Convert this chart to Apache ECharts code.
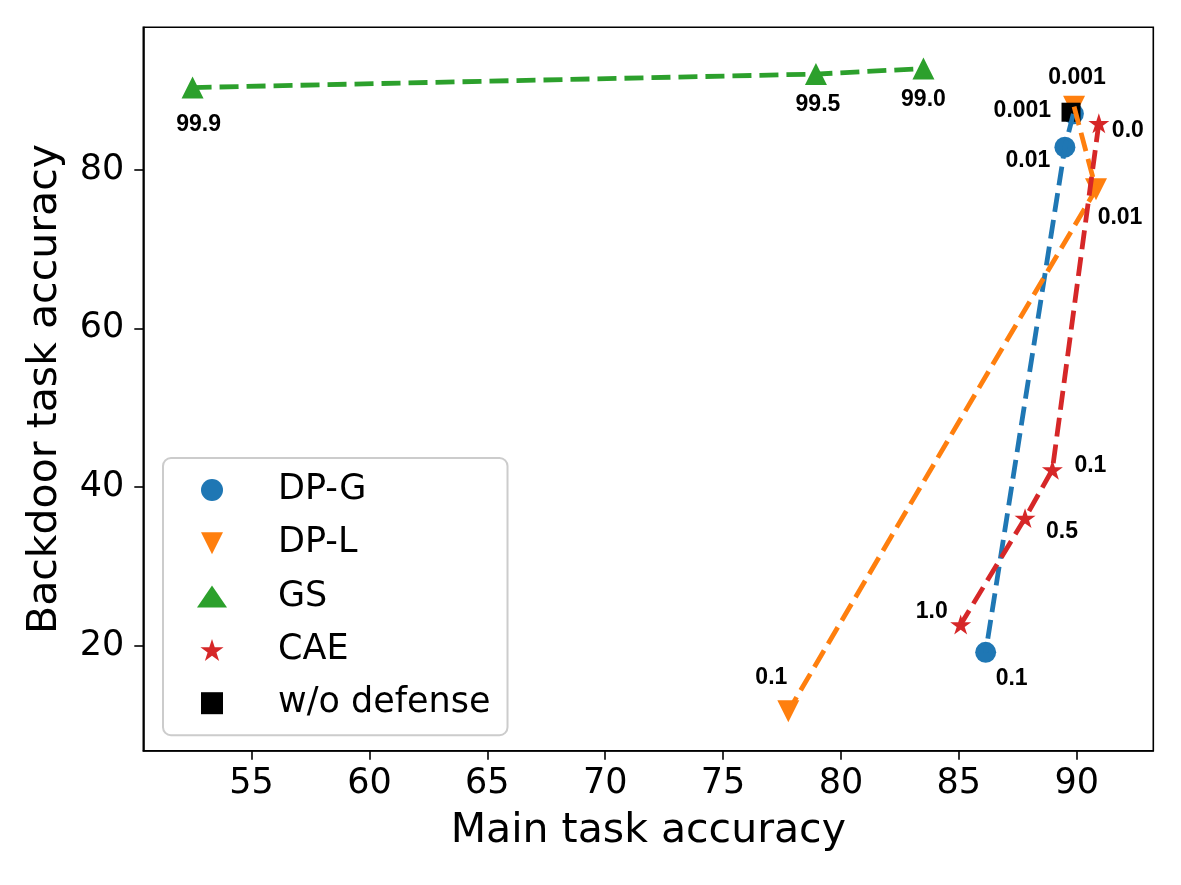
<!DOCTYPE html>
<html>
<head>
<meta charset="utf-8">
<title>Main vs backdoor task accuracy</title>
<script src="https://cdn.jsdelivr.net/npm/echarts@6.0.0/dist/echarts.min.js"></script>
<style>
  html, body { margin: 0; padding: 0; background: #fff; }
  #chart { width: 1181px; height: 885px; }
</style>
</head>
<body>
<div id="chart"></div>
<script>
// points: [main task accuracy, backdoor task accuracy]
const dpG = [[89.86, 87.0], [89.5, 82.8], [86.14, 19.2]];
const dpGLabels = ['0.001', '0.01', '0.1'];

const dpL = [[89.89, 87.9], [90.82, 77.5], [77.77, 11.8]];
const dpLLabels = ['0.001', '0.01', '0.1'];

const gs = [[52.5, 90.3], [78.94, 92.0], [83.5, 92.7]];
const gsLabels = ['99.9', '99.5', '99.0'];

const cae = [[90.94, 85.8], [88.97, 42.2], [87.81, 36.1], [85.08, 22.7]];
const caeLabels = ['0.0', '0.1', '0.5', '1.0'];

const noDefense = [[89.76, 87.2]];

const xTicks = [55, 60, 65, 70, 75, 80, 85, 90];
const yTicks = [20, 40, 60, 80];

// label offsets in px (text centre relative to marker centre)
const offsets = {
    dpG: [[-51, -3], [-37, 13], [26, 26]],
    dpL: [[3, -29], [24, 28], [-17, -33]],
    gs: [[6, 37], [2, 31], [0, 31]],
    cae: [[29, 7], [38, -4], [37, 14], [-29, -13]]
};

const STAR = 'path://M50 0 L61.23 34.55 L97.55 34.55 L68.16 55.9 L79.39 90.45 L50 69.1 L20.61 90.45 L31.84 55.9 L2.45 34.55 L38.77 34.55 Z';
const TRI_DOWN = 'path://M0 0 L2 0 L1 2 Z';
const SQUARE = 'path://M0 0 L1 0 L1 1 L0 1 Z';

const tickFont = 'DejaVu Sans';
const annFont = 'Liberation Sans';

function withLabels(points, labels, offs) {
    return points.map((p, i) => ({
        value: p,
        label: { formatter: labels[i], offset: offs[i] }
    }));
}

function scatter(name, data, color, symbol, size) {
    return {
        name: name,
        type: 'scatter',
        data: data,
        symbol: symbol,
        symbolSize: size,
        symbolKeepAspect: true,
        itemStyle: { color: color, opacity: 1 },
        z: 2,
        label: {
            show: true,
            position: 'inside',
            align: 'center',
            verticalAlign: 'middle',
            color: '#000',
            fontFamily: annFont,
            fontWeight: 'bold',
            fontSize: 23
        },
        emphasis: { disabled: true }
    };
}

function dashed(points, color) {
    return {
        type: 'line',
        data: points,
        symbol: 'none',
        lineStyle: { color: color, width: 4.8, type: [19, 8], cap: 'butt' },
        z: 4,
        silent: true
    };
}

const chart = echarts.init(document.getElementById('chart'));

const option = {
    animation: false,
    backgroundColor: '#fff',
    grid: {
        left: 143.3, right: 27.7, top: 27.3, bottom: 134.3,
        show: true, borderColor: '#000', borderWidth: 1.6, backgroundColor: '#fff'
    },
    xAxis: {
        type: 'value',
        min: 50.41,
        max: 93.25,
        name: 'Main task accuracy',
        nameLocation: 'middle',
        nameGap: 60,
        nameTextStyle: { fontFamily: tickFont, fontSize: 41, color: '#000' },
        splitLine: { show: false },
        axisLine: { show: true, lineStyle: { color: '#000', width: 1.6 } },
        axisTick: { show: true, customValues: xTicks, length: 9, lineStyle: { color: '#000', width: 1.6 } },
        axisLabel: { customValues: xTicks, fontFamily: tickFont, fontSize: 35, color: '#000', margin: 16 }
    },
    yAxis: {
        type: 'value',
        min: 6.82,
        max: 97.89,
        name: 'Backdoor task accuracy',
        nameLocation: 'middle',
        nameGap: 77,
        nameTextStyle: { fontFamily: tickFont, fontSize: 41, color: '#000' },
        splitLine: { show: false },
        axisLine: { show: true, lineStyle: { color: '#000', width: 1.6 } },
        axisTick: { show: true, customValues: yTicks, length: 9, lineStyle: { color: '#000', width: 1.6 } },
        axisLabel: { customValues: yTicks, fontFamily: tickFont, fontSize: 35, color: '#000', margin: 19 }
    },
    legend: {
        orient: 'vertical',
        left: 163,
        top: 458,
        data: ['DP-G', 'DP-L', 'GS', 'CAE', 'w/o defense'],
        itemWidth: 30,
        itemHeight: 22,
        itemGap: 13.3,
        symbolKeepAspect: true,
        padding: [12, 17, 12, 34],
        borderColor: '#cccccc',
        borderWidth: 2,
        borderRadius: 8,
        backgroundColor: 'rgba(255,255,255,0.8)',
        textStyle: {
            fontFamily: tickFont, fontSize: 35, color: '#000',
            lineHeight: 40, padding: [0, 0, 0, 46]
        },
        selectedMode: false
    },
    series: [
        scatter('DP-G', withLabels(dpG, dpGLabels, offsets.dpG), '#1f77b4', 'circle', 21),
        scatter('DP-L', withLabels(dpL, dpLLabels, offsets.dpL), '#ff7f0e', TRI_DOWN, 22),
        scatter('GS', withLabels(gs, gsLabels, offsets.gs), '#2ca02c', 'triangle', 22),
        scatter('CAE', withLabels(cae, caeLabels, offsets.cae), '#d62728', STAR, 21),
        Object.assign(scatter('w/o defense', noDefense, '#000', SQUARE, 19), { label: { show: false }, z: 3 }),
        dashed(dpG, '#1f77b4'),
        dashed(dpL, '#ff7f0e'),
        dashed(gs, '#2ca02c'),
        dashed(cae, '#d62728')
    ]
};

chart.setOption(option);
</script>
</body>
</html>
